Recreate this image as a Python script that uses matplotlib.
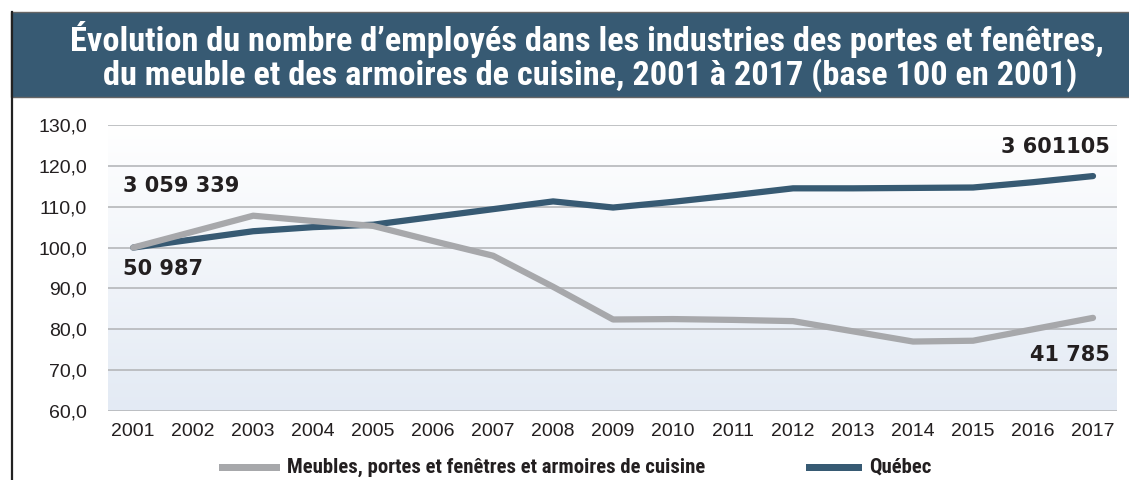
import numpy as np
import matplotlib
matplotlib.use("Agg")
import matplotlib.pyplot as plt
from matplotlib import font_manager
from matplotlib.patches import Rectangle
from matplotlib.lines import Line2D

# data (base 100 in 2001)
years = list(range(2001, 2018))
quebec = [100.0, 102.0, 104.0, 105.0, 105.6, 107.5, 109.4, 111.3, 109.8, 111.2,
          112.8, 114.5, 114.5, 114.6, 114.7, 116.0, 117.5]
meubles = [100.0, 103.9, 107.8, 106.5, 105.3, 101.6, 98.0, 90.4, 82.4, 82.5,
           82.3, 82.0, 79.5, 77.0, 77.2, 80.0, 82.8]
yticks = [60, 70, 80, 90, 100, 110, 120, 130]
ytick_labels = ["60,0", "70,0", "80,0", "90,0", "100,0", "110,0", "120,0", "130,0"]
title_lines = ["Évolution du nombre d\u2019employés dans les industries des portes et fenêtres,",
               "du meuble et des armoires de cuisine, 2001 à 2017 (base 100 en 2001)"]
labels_left = ["3 059 339", "50 987"]
labels_right = ["3 601105", "41 785"]
legend_names = ["Meubles, portes et fenêtres et armoires de cuisine", "Québec"]

dark = "#375a73"
grey = "#a7a8ab"
ink = "#231f20"

# pick a narrow face for the title / legend if one is installed
fonts = font_manager.fontManager.ttflist
names = {f.name for f in fonts}
narrow = None
for cand in ["Roboto Condensed", "Liberation Sans Narrow", "Open Sans Condensed", "Arial Narrow"]:
    if cand in names:
        narrow = dict(family=[cand, "DejaVu Sans"])
        break
if narrow is None:
    if any(f.name == "DejaVu Sans" and f.stretch == "condensed" for f in fonts):
        narrow = dict(family=["DejaVu Sans"], fontstretch="condensed")
    else:
        narrow = dict(family=["Liberation Sans", "DejaVu Sans"])

plt.rcParams['font.family'] = ["Liberation Sans", "DejaVu Sans"]

W, H = 1129, 480
fig = plt.figure(figsize=(W / 100, H / 100), dpi=100)
renderer = fig.canvas.get_renderer()


def fit_text(x, y, s, width_px, size, **kw):
    # size the font so the string spans the width seen in the reference
    t = fig.text(x, y, s, fontsize=size, **kw)
    w = t.get_window_extent(renderer).width
    t.set_fontsize(size * width_px / w)
    return t


# title banner
fig.patches.append(Rectangle((11 / W, 1 - 97 / H), 1, 85 / H, transform=fig.transFigure,
                             facecolor=dark, edgecolor="#666666", lw=1, zorder=0))
fig.lines.append(Line2D([11.5 / W, 11.5 / W], [0, 1 - 12 / H], transform=fig.transFigure,
                        color="#222222", lw=1.6))
fit_text(587 / W, 1 - 40 / H, title_lines[0], 1037, 21, ha="center", va="center",
         color="white", fontweight="bold", **narrow)
fit_text(590 / W, 1 - 75 / H, title_lines[1], 976, 21, ha="center", va="center",
         color="white", fontweight="bold", **narrow)

ax = fig.add_axes([108 / W, 1 - 411 / H, 1009 / W, 286 / H])
x0, x1 = 2000.58, 2017.4
ax.set_xlim(x0, x1)
ax.set_ylim(60, 130)

# soft gradient background, white at top to pale blue at bottom
grad = np.linspace(0, 1, 256).reshape(-1, 1)
cmap = matplotlib.colors.LinearSegmentedColormap.from_list("bg", ["#e3eaf4", "#ffffff"])
ax.imshow(grad, extent=[x0, x1, 60, 130], aspect="auto", cmap=cmap,
          origin="lower", zorder=0)

for y in yticks:
    ax.axhline(y, color="#b5b7ba", lw=1.2, zorder=1)

ax.plot(years, quebec, color=dark, lw=4.5, solid_capstyle="round", zorder=3)
ax.plot(years, meubles, color=grey, lw=4.5, solid_capstyle="round", zorder=4)

for s in ax.spines.values():
    s.set_visible(False)
ax.set_yticks(yticks)
ax.set_yticklabels(ytick_labels)
ax.set_xticks(years)
ax.tick_params(length=0, labelsize=14, colors=ink)
ax.tick_params(axis="y", pad=15)
ax.tick_params(axis="x", pad=9)

bold = dict(fontsize=15, fontweight="bold", color=ink, family=["DejaVu Sans"])
ax.text(2000.83, 115.0, labels_left[0], ha="left", va="center", **bold)
ax.text(2000.83, 94.8, labels_left[1], ha="left", va="center", **bold)
ax.text(2017.28, 124.5, labels_right[0], ha="right", va="center", **bold)
ax.text(2017.28, 73.8, labels_right[1], ha="right", va="center", **bold)

# legend
fig.patches.append(Rectangle((219 / W, 1 - 471 / H), 61 / W, 7 / H, transform=fig.transFigure,
                             facecolor=grey, edgecolor="none"))
leg = fit_text(287 / W, 1 - 467 / H, legend_names[0], 417, 13, va="center", color=ink,
               fontweight="bold", **narrow)
fig.patches.append(Rectangle((806 / W, 1 - 471 / H), 56 / W, 7 / H, transform=fig.transFigure,
                             facecolor=dark, edgecolor="none"))
fig.text(869 / W, 1 - 467 / H, legend_names[1], fontsize=leg.get_fontsize(), va="center",
         color=ink, fontweight="bold", **narrow)

fig.savefig("out.png", dpi=100, facecolor="white")
